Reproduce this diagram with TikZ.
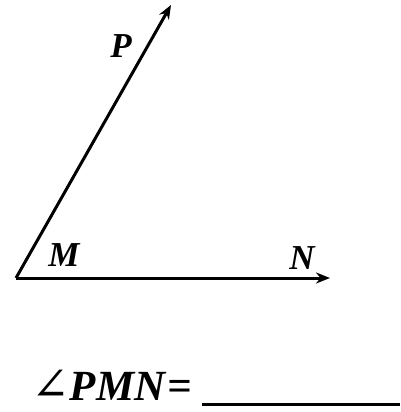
\documentclass[tikz,border=0pt]{standalone}
\usepackage{fontspec}
\setmainfont{Liberation Serif}
\newfontfamily\symfont{DejaVu Serif}
\usetikzlibrary{arrows.meta}
\begin{document}
\begin{tikzpicture}[x=1pt,y=-1pt,
  ray/.style={line width=3pt,-{Stealth[length=14pt,width=11pt]}},
  lbl/.style={font=\fontsize{35}{35}\selectfont\bfseries\itshape,inner sep=0pt,anchor=base}]
\useasboundingbox[fill=white] (0,0) rectangle (400,412);
\coordinate (M) at (16,278);
\coordinate (P) at (171,5);
\coordinate (N) at (330,278);
\draw[ray] (M) -- (P);
\draw[ray] (M) -- (N);
\node[lbl] (lp) at (121,58) {P};
\node[lbl] (lm) at (64,266) {M};
\node[lbl] (ln) at (302,269) {N};
\node[inner sep=0pt,anchor=base west,text depth=0pt] (ang) at (31,400) {{\symfont\fontsize{46}{46}\selectfont ∠}{\fontsize{43}{43}\selectfont\bfseries\itshape PMN\hspace{2pt}=}};
\coordinate (u1) at (202,404);
\coordinate (u2) at (400,404);
\draw[line width=3pt] (u1) -- (u2);
\end{tikzpicture}
\end{document}
